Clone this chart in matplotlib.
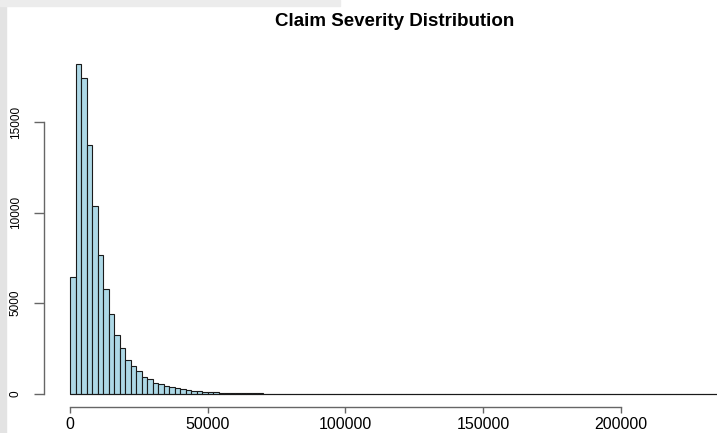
import numpy as np
import matplotlib.pyplot as plt
from matplotlib.patches import Rectangle

plt.rcParams['font.family'] = ['Liberation Sans', 'DejaVu Sans']

# claim severity histogram, bins of 2000 starting at 0
bin_width = 2000
counts = [
    6440, 18220, 17450, 13730, 10340, 7640, 5750, 4390, 3250, 2510,
    1860, 1520, 1240, 920, 780, 600, 550, 435, 350, 280,
    230, 185, 150, 125, 100, 82, 68, 55, 46, 38,
    31, 26, 21, 17, 12, 0, 0, 0, 0, 0,
    0, 0, 0, 0, 0, 0, 0, 0, 0, 0,
    0, 0, 0, 0, 0, 0, 0, 0, 0, 0,
    0, 0, 0, 0, 0, 0, 0, 0, 0, 0,
    0, 0, 0, 0, 0, 0, 0, 0, 0, 0,
    0, 0, 0, 0, 0, 0, 0, 0, 0, 0,
    0, 0, 0, 0, 0, 0, 0, 0, 0, 0,
    0, 0, 0, 0, 0, 0, 0, 0, 0, 0,
    0, 0, 0, 0, 0, 0, 0, 0,
]
x_ticks = [0, 50000, 100000, 150000, 200000]
y_ticks = [0, 5000, 10000, 15000]
title = 'Claim Severity Distribution'

lefts = np.arange(len(counts)) * bin_width
top = max(counts)
right = lefts[-1] + bin_width

fig = plt.figure(figsize=(7.17, 4.33), dpi=100)
fig.patch.set_facecolor('white')
ax = fig.add_axes([44 / 717, 26.3 / 433, 702 / 717, 356.1 / 433])

ax.bar(lefts, counts, width=bin_width, align='edge',
       color='lightblue', edgecolor='#1a1a1a', linewidth=0.8)
# empty bins collapse onto the baseline
ax.hlines(0, lefts[0], right, color='#1a1a1a', linewidth=0.8)

# R-style 4% padding around the data range
ax.set_xlim(-0.04 * right, 1.04 * right)
ax.set_ylim(-0.04 * top, 1.04 * top)

for side in ['top', 'right']:
    ax.spines[side].set_visible(False)
ax.spines['left'].set_bounds(0, 15000)
ax.spines['bottom'].set_bounds(0, 200000)
for side in ['left', 'bottom']:
    ax.spines[side].set_color('#666666')
    ax.spines[side].set_linewidth(1.0)

ax.set_xticks(x_ticks)
ax.set_xticklabels([str(v) for v in x_ticks])
ax.set_yticks(y_ticks)
ax.set_yticklabels([str(v) for v in y_ticks], rotation=90, va='center')
ax.tick_params(axis='x', length=4.5, width=1.0, color='#666666',
               labelsize=11.5, pad=3)
ax.tick_params(axis='y', length=7, width=1.0, color='#666666',
               labelsize=8.5, pad=9)

fig.text(395 / 717, 1 - 21 / 433, title, ha='center', va='center',
         fontsize=13.5, fontweight='bold')

# light grey margin along the left and top edges
fig.patches.append(Rectangle((0, 0), 6 / 717, 1, transform=fig.transFigure,
                             color='#e3e3e3', zorder=-1))
fig.patches.append(Rectangle((0, 1 - 6 / 433), 340 / 717, 6 / 433,
                             transform=fig.transFigure, color='#ececec',
                             zorder=-1))

fig.savefig('out.png', dpi=100)
